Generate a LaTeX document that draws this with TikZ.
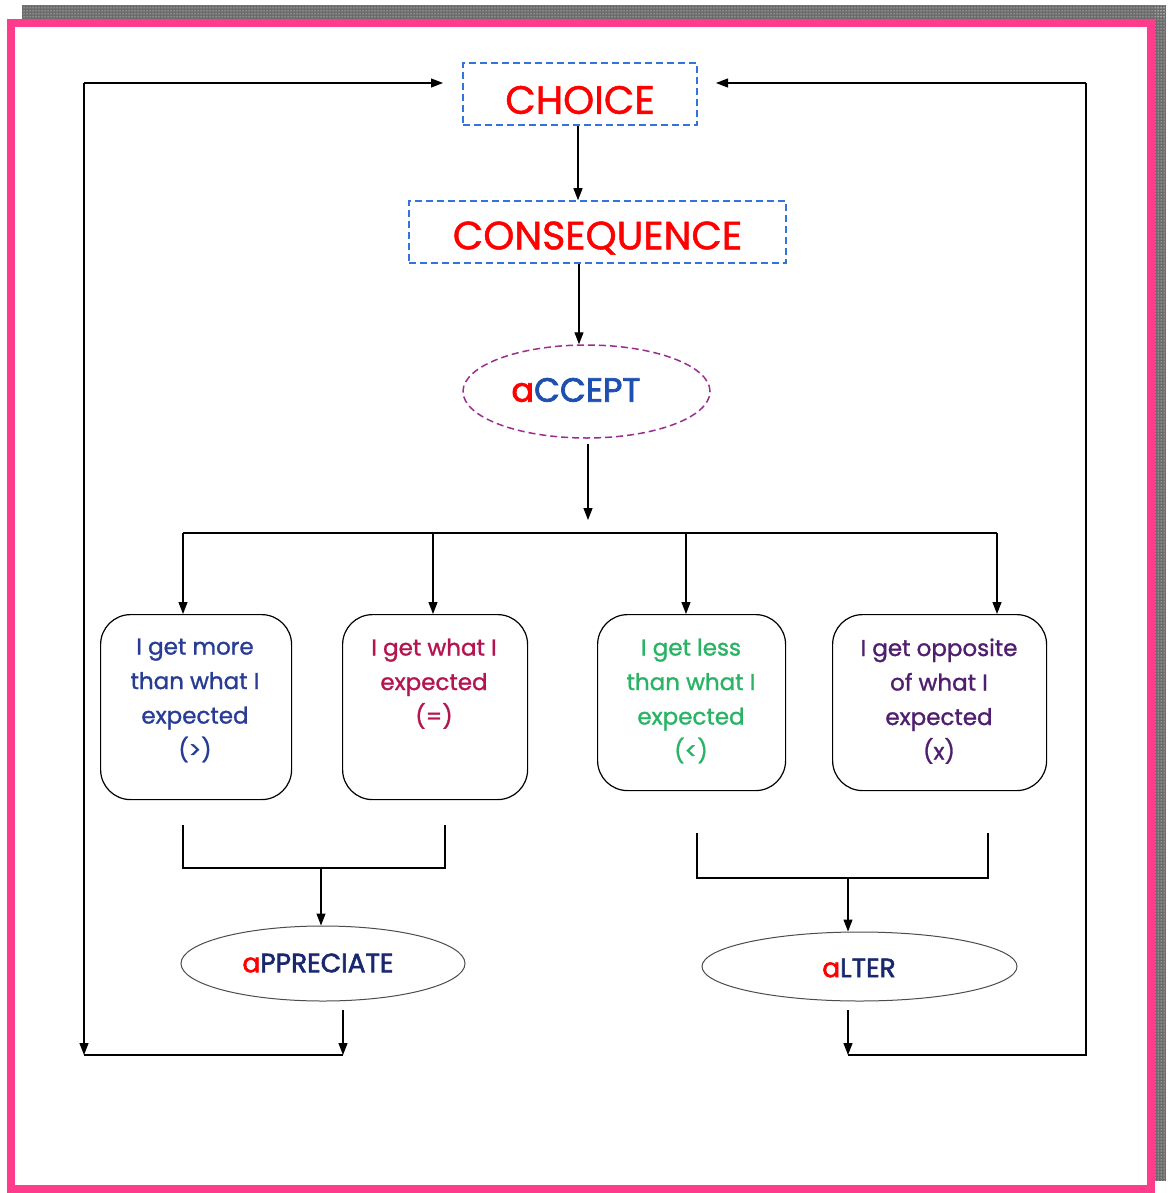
\documentclass[tikz,border=0pt]{standalone}
\usepackage{fontspec}
\setmainfont{Poppins}
\newfontfamily\medfont{Poppins}[FakeBold=1.2]
\newfontfamily\semifont{Poppins}[FakeBold=2.2]
\usetikzlibrary{shapes.geometric,arrows.meta,patterns}
\definecolor{pinkframe}{RGB}{255,60,140}
\definecolor{dashblue}{RGB}{50,115,220}
\definecolor{dashpurple}{RGB}{155,45,145}
\definecolor{txtred}{RGB}{255,0,0}
\definecolor{acceptblue}{RGB}{30,80,175}
\definecolor{navy}{RGB}{25,40,110}
\definecolor{boxblue}{RGB}{40,60,150}
\definecolor{boxcrimson}{RGB}{180,20,80}
\definecolor{boxgreen}{RGB}{40,180,100}
\definecolor{boxpurple}{RGB}{80,30,110}
\tikzset{
  conn/.style={line width=1.2pt, draw=black},
  arr/.style={conn, -{Triangle[length=12pt,width=9pt]}},
  dashbox/.style={draw=dashblue, line width=1.5pt, dash pattern=on 7pt off 4pt, rectangle, inner sep=0pt},
  bigtxt/.style={text=txtred, font=\medfont\fontsize{39.5}{42}\selectfont},
  rbox/.style={draw=black, line width=1.2pt, rounded corners=30pt, inner sep=0pt, align=center, anchor=north west},
  boxtxt/.style={font=\medfont\fontsize{23}{34.5}\selectfont, align=center},
  oval/.style={ellipse, draw=black!70, line width=1pt, inner sep=0pt},
}
\begin{document}
\begin{tikzpicture}[x=1pt,y=-1pt]
\useasboundingbox (0,0) rectangle (1169,1193);
% shadow strip
\fill[gray!85!black] (22,5) rectangle (1166,19);
\fill[gray!85!black] (1155,5) rectangle (1166,1181);
\fill[pattern=dots, pattern color=white] (22,5) rectangle (1166,19);
\fill[pattern=dots, pattern color=white] (1155,5) rectangle (1166,1181);
% pink frame
\fill[white] (11,23) rectangle (1151,1189);
\draw[pinkframe, line width=8pt] (11,23) rectangle (1151,1189);

% top nodes
\node[dashbox, minimum width=234pt, minimum height=62pt] (choice) at (580,94) {};
\node[bigtxt] (choicet) at (580,100) {CHOICE};
\node[dashbox, minimum width=377pt, minimum height=62pt] (cons) at (597.5,232) {};
\node[bigtxt] (const) at (597.5,238) {CONSEQUENCE};
\node[ellipse, draw=dashpurple, line width=1.5pt, dash pattern=on 7pt off 4pt, minimum width=247pt, minimum height=93pt, inner sep=0pt] (accept) at (586.5,391.5) {};
\node[font=\semifont\fontsize{33.5}{36}\selectfont] (acceptt) at (576,390) {\textcolor{txtred}{a}\textcolor{acceptblue}{CCEPT}};

\draw[arr] (choice.south -| 578,0) -- (cons.north -| 578,0);
\draw[arr] (cons.south -| 579,0) -- (accept.north -| 579,0);

% split
\coordinate (abot) at (588,444);
\coordinate (split) at (588,520);
\draw[arr] (abot) -- (split);
\coordinate (hl) at (183,533);
\coordinate (hr) at (997,533);
\draw[conn] (hl) -- (hr);

% four boxes
\node[rbox, minimum width=191pt, minimum height=185pt] (b1) at (100,614) {};
\node[rbox, minimum width=185pt, minimum height=185pt] (b2) at (342,614) {};
\node[rbox, minimum width=188pt, minimum height=176pt] (b3) at (597,614) {};
\node[rbox, minimum width=214pt, minimum height=176pt] (b4) at (832,614) {};

\node[boxtxt, text=boxblue, anchor=north] (t1) at (195,635) {I get more\\than what I\\expected\\(>)};
\node[boxtxt, text=boxcrimson, anchor=north] (t2) at (434,635) {I get what I\\expected\\(=)};
\node[boxtxt, text=boxgreen, anchor=north] (t3) at (691,635) {I get less\\than what I\\expected\\(<)};
\node[boxtxt, text=boxpurple, anchor=north] (t4) at (939,635) {I get opposite\\of what I\\expected\\(x)};

\draw[arr] (hl) -- (b1.north -| hl);
\draw[arr] (433,533) -- (b2.north -| 433,0);
\draw[arr] (686,533) -- (b3.north -| 686,0);
\draw[arr] (hr) -- (b4.north -| hr);

% left merge
\coordinate (l1) at (183,825);
\coordinate (l2) at (445,825);
\coordinate (lm) at (321,868);
\draw[conn] (l1) |- (lm) -| (l2);
\node[oval, minimum width=284pt, minimum height=75pt] (appr) at (323,963.5) {};
\node[font=\semifont\fontsize{26.5}{28}\selectfont] (apprt) at (318,963) {\textcolor{txtred}{a}\textcolor{navy}{PPRECIATE}};
\draw[arr] (lm) -- (appr.north -| lm);

% right merge
\coordinate (r1) at (697,833);
\coordinate (r2) at (988,833);
\coordinate (rm) at (848,878);
\draw[conn] (r1) |- (rm) -| (r2);
\node[oval, minimum width=315pt, minimum height=69pt] (alter) at (859.5,966.5) {};
\node[font=\semifont\fontsize{26.5}{28}\selectfont] (altert) at (859,968) {\textcolor{txtred}{a}\textcolor{navy}{LTER}};
\draw[arr] (rm) -- (alter.north -| rm);

% loops
\coordinate (apb) at (343,1010);
\coordinate (ape) at (343,1055);
\coordinate (llb) at (84,1055);
\coordinate (llt) at (84,83);
\draw[arr] (apb) -- (ape);
\draw[conn] (llb) -- (ape);
\draw[arr] (llt) -- (llb);
\draw[arr] (llt) -- (443,83);

\coordinate (alb) at (848,1010);
\coordinate (ale) at (848,1055);
\coordinate (rlb) at (1086,1055);
\coordinate (rlt) at (1086,83);
\draw[arr] (alb) -- (ale);
\draw[conn] (ale) -- (rlb) -- (rlt);
\draw[arr] (rlt) -- (716,83);
\end{tikzpicture}
\end{document}
